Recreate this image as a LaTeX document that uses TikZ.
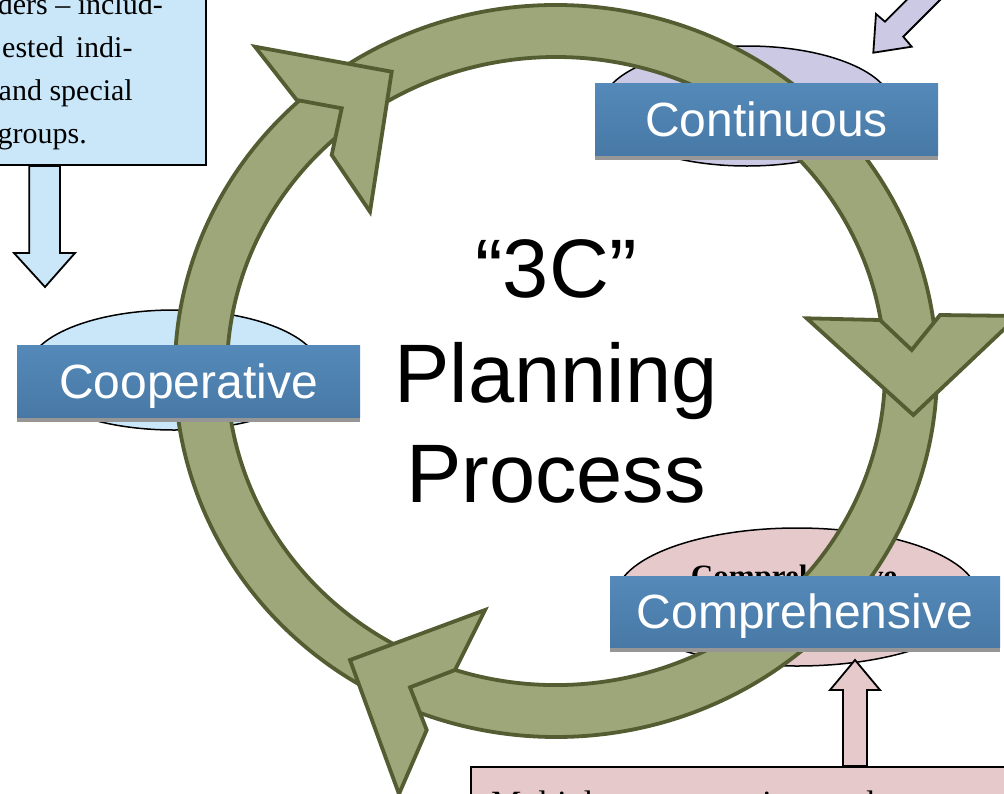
\documentclass[tikz,border=0pt]{standalone}
\usepackage{fontspec}
\setmainfont{Liberation Serif}
\setsansfont{Liberation Sans}
\usetikzlibrary{shapes.geometric}
\definecolor{ringfill}{RGB}{158,167,122}
\definecolor{ringline}{RGB}{84,92,50}
\definecolor{boxtop}{RGB}{84,137,185}
\definecolor{boxbot}{RGB}{72,121,166}
\definecolor{shadowgrey}{RGB}{150,150,150}
\definecolor{lightblue}{RGB}{201,231,249}
\definecolor{lavender}{RGB}{204,201,228}
\definecolor{pinkish}{RGB}{230,201,203}
\begin{document}
\begin{tikzpicture}[x=1pt,y=1pt,
  ring/.style={fill=ringfill, draw=ringline, line width=3.8pt, line join=miter},
  oval/.style={ellipse, draw=black, line width=1.5pt, inner sep=0pt},
  lbl/.style={rectangle, top color=boxtop, bottom color=boxbot, text=white, inner sep=0pt,
    text height=34pt, text depth=0pt, font=\sffamily\fontsize{48}{48}\selectfont,
    preaction={fill=shadowgrey, transform canvas={yshift=-4.5pt}}},
  blockarrow/.style={draw=black, line width=1.8pt, line join=miter},
  notebox/.style={draw=black, line width=2pt, inner sep=0pt},
  notetext/.style={font=\rmfamily\fontsize{30}{43}\selectfont, inner sep=0pt},
  titletext/.style={font=\sffamily\fontsize{83}{100}\selectfont, inner sep=0pt}
]
\useasboundingbox (0,0) rectangle (1004,-793);
\clip (0,0) rectangle (1004,-793);

% ellipses behind the cycle
\node[oval, fill=lavender, minimum width=290pt, minimum height=120pt] (contov) at (747,-106) {};
\node[oval, fill=lightblue, minimum width=292pt, minimum height=120pt] (coopov) at (174,-370) {};
\node[oval, fill=pinkish, minimum width=362pt, minimum height=138pt] (compov) at (797,-597) {};
\node[font=\rmfamily\bfseries\fontsize{31}{31}\selectfont, anchor=base, inner sep=0pt] (comptxt) at (794,-586) {Comprehensive};

% cycle bodies
\begin{scope}[shift={(556,-371)}]
\path[ring] (244:381 and 366) arc[start angle=244,end angle=125,x radius=381,y radius=366]
  -- (125:329 and 314) arc[start angle=125,end angle=244,x radius=329,y radius=314] -- cycle;
\path[ring] (126:381 and 366) arc[start angle=126,end angle=0,x radius=381,y radius=366]
  -- (0:329 and 314) arc[start angle=0,end angle=126,x radius=329,y radius=314] -- cycle;
\path[ring] (1:381 and 366) arc[start angle=1,end angle=-117,x radius=381,y radius=366]
  -- (-117:329 and 314) arc[start angle=-117,end angle=1,x radius=329,y radius=314] -- cycle;
\end{scope}
% chevron heads
\path[ring] (255,-46.7) -- (391.7,-71.7) -- (370,-211.7) -- (331.7,-155) -- (341.7,-108.3) -- (296.7,-100) -- cycle;
\path[ring] (806.7,-318.3) -- (880,-320) -- (911.7,-350) -- (940,-315) -- (1018,-316) -- (913.3,-415) -- cycle;
\path[ring] (485,-610) -- (455,-670) -- (410,-687.3) -- (426.7,-730) -- (399,-794) -- (350,-660) -- cycle;

% labels
\node[lbl, minimum width=343pt, minimum height=72pt] (cont) at (766.5,-119) {Continuous};
\node[lbl, minimum width=343pt, minimum height=72pt] (coop) at (188.5,-381) {Cooperative};
\node[lbl, minimum width=390pt, minimum height=71pt] (comp) at (805,-611.5) {Comprehensive};

% title
\node[titletext, anchor=base] (t1) at (556,-297) {“3C”};
\node[titletext, anchor=base] (t2) at (556,-402) {Planning};
\node[titletext, anchor=base] (t3) at (556,-502) {Process};

% stakeholder note
\node[notebox, fill=lightblue, minimum width=300pt, minimum height=220pt, anchor=south east] (stake) at (207,-166) {};
\node[notetext, anchor=base east] (s1) at (163,-14) {ders – includ-};
\node[notetext, anchor=base west] (s2) at (2,-57) {ested\hspace{12pt}indi-};
\node[notetext, anchor=base east] (s3) at (133,-100) {and special};
\node[notetext, anchor=base east] (s4) at (87,-143) {groups.};
\draw[blockarrow, fill=lightblue] (29.3,-166) -- (29.3,-253) -- (14,-253) -- (45,-287) -- (75,-253) -- (60,-253) -- (60,-166) -- cycle;

% purple arrow
\draw[blockarrow, fill=lavender] (873.3,-52.7) -- (911.7,-46.7) -- (903.3,-36.7) -- (960,20) -- (926.7,20) -- (885,-21.7) -- (876,-14) -- cycle;

% comprehensive note
\draw[blockarrow, fill=pinkish] (843,-766) -- (843,-690) -- (830,-690) -- (855,-660) -- (880,-690) -- (867,-690) -- (867,-766) -- cycle;
\node[notebox, fill=pinkish, minimum width=580pt, minimum height=60pt, anchor=north west] (multi) at (470,-766) {};
\node[font=\rmfamily\fontsize{34}{40}\selectfont, anchor=base west, inner sep=0pt] (multitxt) at (491,-814) {Multiple transportation modes};
\end{tikzpicture}
\end{document}
